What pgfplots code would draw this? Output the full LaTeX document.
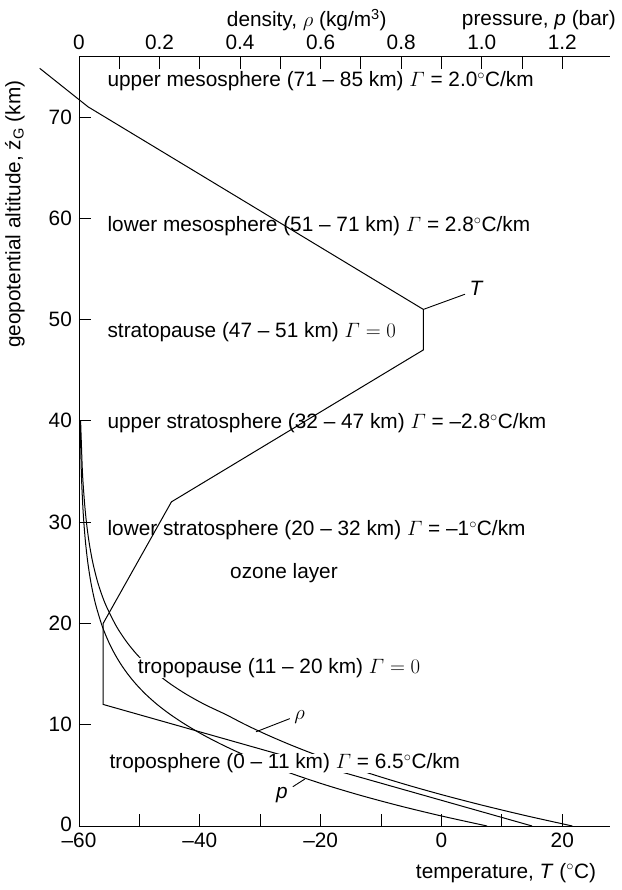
\documentclass[border=0pt]{standalone}
\usepackage{amsmath}
\usepackage{fontspec}
\setmainfont{Liberation Sans}
\usepackage{pgfplots}
\pgfplotsset{compat=1.18}
\begin{document}
\fontsize{20.8}{24}\selectfont
\begin{tikzpicture}
\path[use as bounding box] (-79pt,-64pt) rectangle (542pt,826pt);
% density / pressure axis (top)
\begin{axis}[at={(0,0)}, anchor=south west, scale only axis,
  width=531pt, height=769.3pt,
  xmin=0, xmax=1.3185, ymin=0, ymax=75.95,
  axis x line*=top, axis y line=none,
  axis line style={-, line width=0.9pt},
  tick align=inside, major tick length=12pt,
  tick style={line width=0.9pt, black},
  xtick={0,0.1,0.2,0.3,0.4,0.5,0.6,0.7,0.8,0.9,1.0,1.1,1.2},
  xticklabels={0,,0.2,,0.4,,0.6,,0.8,,1.0,,1.2},
  ytick=\empty, clip=false]
\addplot[black, line width=1pt, smooth] coordinates {
(1.01325,0) (0.89876,1) (0.79501,2) (0.70121,3) (0.61660,4) (0.54048,5)
(0.47217,6) (0.41105,7) (0.35651,8) (0.30800,9) (0.26499,10) (0.22699,11)
(0.19399,12) (0.16579,13) (0.14170,14) (0.12111,15) (0.10352,16) (0.08850,17)
(0.07565,18) (0.06467,19) (0.05529,20) (0.04047,22) (0.02972,24) (0.02188,26)
(0.01616,28) (0.01197,30) (0.00889,32) (0.00575,35) (0.00287,40)};
\addplot[black, line width=1pt, smooth] coordinates {
(1.2250,0) (1.1117,1) (1.0066,2) (0.90925,3) (0.81935,4) (0.73643,5)
(0.66011,6) (0.59002,7) (0.52579,8) (0.46706,9) (0.41351,10) (0.36480,11)
(0.31194,12) (0.26660,13) (0.22786,14) (0.19476,15) (0.16647,16) (0.14230,17)
(0.12165,18) (0.10400,19) (0.08891,20) (0.06451,22) (0.04694,24) (0.03426,26)
(0.02508,28) (0.01841,30) (0.01355,32) (0.00846,35) (0.00400,40)};
\node at (rel axis cs:0.429,1) [yshift=36.7pt] {density, $\rho$ (kg/m\textsuperscript{3})};
\node at (rel axis cs:0.866,1) [yshift=36.7pt] {pressure, \textit{p} (bar)};
\end{axis}
% temperature axis (bottom)
\begin{axis}[at={(0,0)}, anchor=south west, scale only axis,
  width=531pt, height=769.3pt,
  xmin=-60, xmax=27.9, ymin=0, ymax=75.95,
  axis x line*=bottom, axis y line*=left,
  axis line style={-, line width=0.9pt},
  tick align=inside, major tick length=12pt,
  tick style={line width=0.9pt, black},
  xtick={-60,-50,-40,-30,-20,-10,0,10,20},
  xticklabels={–60,,–40,,–20,,0,,20},
  ytick={0,10,20,30,40,50,60,70},
  yticklabels={\raisebox{4pt}{0},10,20,30,40,50,60,70},
  clip=false]
\addplot[black, line width=1pt] coordinates {
(15,0) (-56,12) (-56,20) (-44.7,32) (-3,47) (-3,51) (-58.5,71) (-66.5,74.8)};
% leaders
\draw[line width=0.9pt] (axis cs:-3,51) -- (axis cs:3.9,52.5);
\node at (axis cs:5.8,53.1) {\textit{T}};
\draw[line width=0.9pt] (axis cs:-30.7,9.3) -- (axis cs:-25.1,10.6);
\node at (axis cs:-23.5,10.8) {$\rho$};
\draw[line width=0.9pt] (axis cs:-22.6,4.64) -- (axis cs:-24.6,3.88);
\node at (axis cs:-26.4,3.06) {\textit{p}};
% layer labels
\node[anchor=west, inner sep=0pt] at (axis cs:-55.3,73.5) {upper mesosphere (71 – 85 km) $\varGamma$ = 2.0$^\circ$C/km};
\node[anchor=west, inner sep=0pt] at (axis cs:-55.3,59.2) {lower mesosphere (51 – 71 km) $\varGamma$ = 2.8$^\circ$C/km};
\node[anchor=west, inner sep=0pt] at (axis cs:-55.3,48.8) {stratopause (47 – 51 km) $\varGamma = 0$};
\node[anchor=west, inner sep=0pt] at (axis cs:-55.3,39.75) {upper stratosphere (32 – 47 km) $\varGamma$ = –2.8$^\circ$C/km};
\node[anchor=west, inner sep=0pt] at (axis cs:-55.3,29.2) {lower stratosphere (20 – 32 km) $\varGamma$ = –1$^\circ$C/km};
\node[anchor=west, inner sep=0pt] at (axis cs:-35,25.0) {ozone layer};
\node[anchor=west, fill=white, inner ysep=0pt, inner xsep=2pt] at (axis cs:-50.6,15.6) {tropopause (11 – 20 km) $\varGamma = 0$};
\node[anchor=west, fill=white, inner ysep=0pt, inner xsep=2pt] at (axis cs:-55.3,6.2) {troposphere (0 – 11 km) $\varGamma$ = 6.5$^\circ$C/km};
% axis titles
\node[anchor=east] at (rel axis cs:0.987,0) [yshift=-47pt] {temperature, \textit{T} ($^\circ$C)};
\node[rotate=90] at (axis cs:-70.6,60.4) {geopotential altitude, ź\textsubscript{G} (km)};
\end{axis}
\end{tikzpicture}
\end{document}
